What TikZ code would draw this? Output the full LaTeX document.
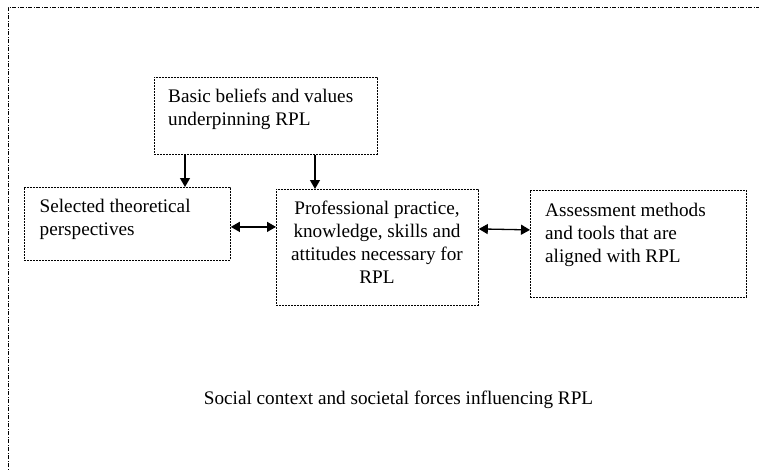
\documentclass[tikz,border=0pt]{standalone}
\usepackage{fontspec}
\setmainfont{Liberation Serif}
\usetikzlibrary{arrows.meta,calc}
\begin{document}
\begin{tikzpicture}[x=1pt,y=-1pt,
 box/.style={draw, line width=0.8pt, dash pattern=on 2pt off 1pt, inner sep=0pt, anchor=north west},
 txt/.style={inner sep=0pt, anchor=north west, font=\fontsize{19.2}{23}\selectfont, align=left},
 conn/.style={line width=1.3pt, -{Triangle[length=9pt,width=10pt]}},
 dconn/.style={line width=1.3pt, {Triangle[length=9pt,width=10pt]}-{Triangle[length=9pt,width=10pt]}}
]
\useasboundingbox (0,0) rectangle (759,469);
\draw[line width=0.8pt, dash pattern=on 4pt off 1.5pt on 1pt off 1.5pt] (8,475) -- (8,7) -- (765,7);

\node[box, minimum width=223pt, minimum height=77pt] (basic) at (154,77) {};
\node[box, minimum width=206pt, minimum height=73pt] (sel) at (24,187) {};
\node[box, minimum width=202pt, minimum height=116pt] (prof) at (276,189) {};
\node[box, minimum width=216pt, minimum height=107pt] (assess) at (530,190) {};

\node[txt] (tbasic) at (168,89) {Basic beliefs and values\\underpinning RPL};
\node[txt] (tsel) at (39.5,198.5) {Selected theoretical\\perspectives};
\node[txt, anchor=north, align=center] (tprof) at (377,200.5) {Professional practice,\\knowledge, skills and\\attitudes necessary for\\RPL};
\node[txt] (tassess) at (545,203) {Assessment methods\\and tools that are\\aligned with RPL};

\node[txt, anchor=base] (social) at (398.5,404) {Social context and societal forces influencing RPL};

\draw[conn] ([xshift=31pt]basic.south west) -- ([xshift=31pt]basic.south west |- sel.north);
\draw[conn] ([xshift=161pt]basic.south west) -- ([xshift=161pt]basic.south west |- prof.north);
\draw[dconn] ([yshift=-3pt]sel.east) -- ([yshift=-3pt]sel.east -| prof.west);
\draw[dconn] ([yshift=18.5pt]prof.east) -- ([yshift=14pt]assess.west);
\end{tikzpicture}
\end{document}
